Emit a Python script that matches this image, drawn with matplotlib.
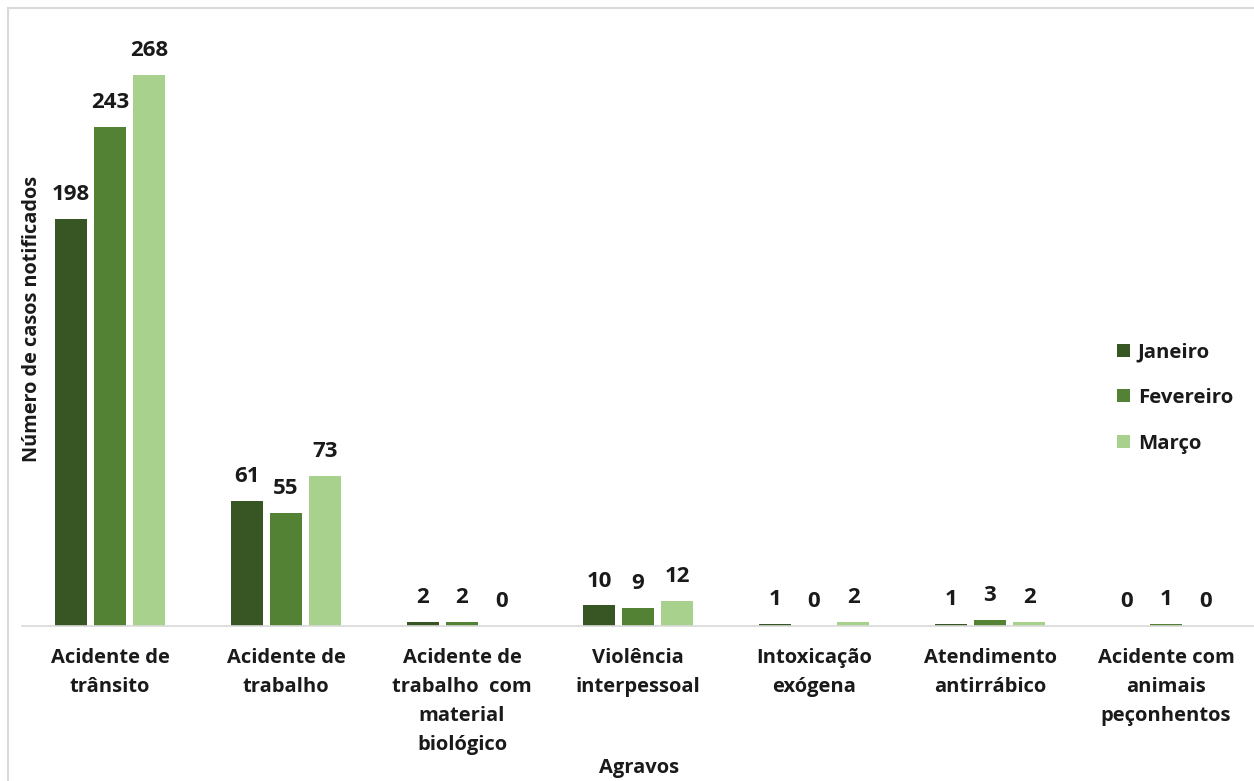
import numpy as np
import matplotlib
matplotlib.use('Agg')
import matplotlib.pyplot as plt
from matplotlib.patches import Rectangle

categorias = ['Acidente de\ntrânsito', 'Acidente de\ntrabalho',
              'Acidente de\ntrabalho  com\nmaterial\nbiológico',
              'Violência\ninterpessoal', 'Intoxicação\nexógena',
              'Atendimento\nantirrábico', 'Acidente com\nanimais\npeçonhentos']
meses = ['Janeiro', 'Fevereiro', 'Março']
janeiro = [198, 61, 2, 10, 1, 1, 0]
fevereiro = [243, 55, 2, 9, 0, 3, 1]
marco = [268, 73, 0, 12, 2, 2, 0]
cores = ['#375623', '#548235', '#A9D18E']

plt.rcParams['font.family'] = ['Open Sans', 'DejaVu Sans']
plt.rcParams['font.weight'] = 'bold'

W, H = 1254, 781
fig = plt.figure(figsize=(W / 100, H / 100), dpi=100)

# moldura cinza do gráfico
fig.patches.append(Rectangle((8 / W, -0.1), 1.2, 1 - 8 / H + 0.1, transform=fig.transFigure,
                             fill=False, edgecolor='#d9d9d9', linewidth=1.5))

ymax = 290
escala = 2.055
base = 626
ax = fig.add_axes([22 / W, 1 - base / H, (W - 22) / W, ymax * escala / H])

x = np.arange(len(categorias))
passo = 0.222
largura = 0.18
for i, (vals, nome) in enumerate(zip([janeiro, fevereiro, marco], meses)):
    pos = x + (i - 1) * passo
    ax.bar(pos, vals, largura, color=cores[i], label=nome)
    for xp, v in zip(pos, vals):
        ax.annotate(str(v), (xp, v), xytext=(0, 10), textcoords='offset points',
                    ha='center', va='bottom', fontsize=16, fontweight='bold', color='#1a1a1a')

ax.set_xlim(-0.5, len(categorias) - 0.5)
ax.set_ylim(0, ymax)
ax.set_xticks(x)
ax.set_xticklabels(categorias, fontsize=14.5, fontweight='bold', linespacing=1.6, color='#1a1a1a')
ax.tick_params(axis='x', length=0, pad=16)
ax.set_yticks([])
for s in ['top', 'right', 'left']:
    ax.spines[s].set_visible(False)
ax.spines['bottom'].set_color('#d9d9d9')
ax.spines['bottom'].set_linewidth(1.2)

fig.text(639 / W, 1 - 768 / H, 'Agravos', ha='center', va='center',
         fontsize=14.5, fontweight='bold', color='#1a1a1a')
fig.text(32 / W, 1 - 319 / H, 'Número de casos notificados', ha='center', va='center',
         rotation=90, fontsize=14.3, fontweight='bold', color='#1a1a1a')

leg = ax.legend(loc='center left', bbox_to_anchor=(1099 / W, 1 - 398 / H),
                bbox_transform=fig.transFigure, frameon=False, fontsize=14.7,
                handlelength=0.6, handleheight=0.6, handletextpad=0.4, labelspacing=1.25)
for t in leg.get_texts():
    t.set_color('#1a1a1a')

fig.savefig('out.png', dpi=100)
